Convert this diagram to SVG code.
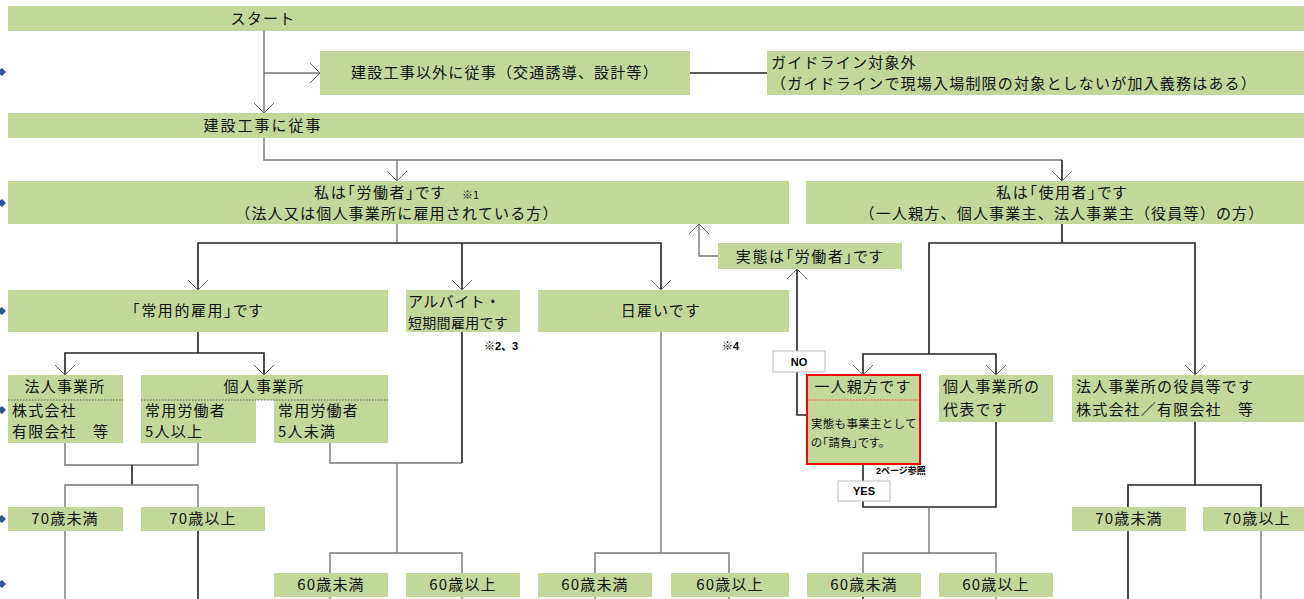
<svg xmlns="http://www.w3.org/2000/svg" width="1304" height="599" viewBox="0 0 1304 599">
<defs>
<style>
.b{fill:#c4d79b}
.t{font-family:"Noto Sans CJK JP","Liberation Sans",sans-serif;font-size:15px;fill:#111;letter-spacing:1.2px}
.p{font-feature-settings:"palt" 1;letter-spacing:1.6px}
.c{text-anchor:middle}
.s{font-size:11.5px;letter-spacing:0.3px}
.m{font-family:"Liberation Sans","Noto Sans CJK JP",sans-serif;font-weight:bold;font-size:11px;fill:#000}
.k{stroke:#222;stroke-width:1.6;fill:none}
.g{stroke:#777;stroke-width:1.4;fill:none}
.a{marker-end:url(#ar)}
.lbl{fill:#fff;stroke:#bbb;stroke-width:1}
</style>
<marker id="ar" viewBox="0 0 10 20" refX="10" refY="10" markerWidth="10" markerHeight="20" markerUnits="userSpaceOnUse" orient="auto">
<path d="M0 0 L10 10 L0 20" fill="none" stroke="#666" stroke-width="1"/>
</marker>
</defs>
<rect width="1304" height="599" fill="#fff"/>

<g id="side-markers" fill="#2f5597">
<polygon points="-3,72 2,68 6,72 2,76"/>
<polygon points="-3,203 2,199 6,203 2,207"/>
<polygon points="-3,311 2,307 6,311 2,315"/>
<polygon points="-3,410 2,406 6,410 2,414"/>
<polygon points="-3,519 2,515 6,519 2,523"/>
<polygon points="-3,584 2,580 6,584 2,588"/>
</g>

<g id="connectors">
<path class="g a" d="M264 31 V113"/>
<path class="g a" d="M264 73 H320"/>
<path class="k" d="M690 73 H767"/>
<path class="g" d="M264 138 V160 H1062"/>
<path class="k a" d="M1062 160 V181"/>
<path class="g a" d="M397 160 V181"/>
<path class="g" d="M397 224 V243"/>
<path class="k a" d="M397 243 H198 V290"/>
<path class="k a" d="M397 243 H661 V290"/>
<path class="k a" d="M462 243 V290"/>
<path class="g a" d="M718 256 H699 V224"/>
<path class="k a" d="M807 415 H797 V269"/>
<path class="k" d="M1062 224 V243"/>
<path class="k a" d="M929 354 V243 H1195 V375"/>
<path class="k a" d="M929 354 H863 V375"/>
<path class="k a" d="M929 354 H996 V375"/>
<path class="k" d="M198 332 V353"/>
<path class="k a" d="M198 353 H65 V375"/>
<path class="k a" d="M198 353 H264 V375"/>
<path class="g" d="M65 443 V465 H198 V443"/>
<path class="k" d="M132 465 V485"/>
<path class="g" d="M65 507 V485 H198 V507"/>
<path class="g" d="M65 531 V599"/>
<path class="k" d="M198 531 V599"/>
<path class="g" d="M330 443 V463 H462"/>
<path class="k" d="M462 332 V463"/>
<path class="g" d="M397 463 V553"/>
<path class="g" d="M330 573 V553 H462 V573"/>
<path class="g" d="M330 597 V599"/>
<path class="g" d="M462 597 V599"/>
<path class="g" d="M661 332 V553"/>
<path class="g" d="M595 573 V553 H729 V573"/>
<path class="g" d="M595 597 V599"/>
<path class="g" d="M729 597 V599"/>
<path class="k" d="M863 464 V507 H996 V422"/>
<path class="g" d="M929 507 V553"/>
<path class="g" d="M863 573 V553 H996 V573"/>
<path class="k" d="M863 597 V599"/>
<path class="g" d="M996 597 V599"/>
<path class="k" d="M1195 422 V485"/>
<path class="k" d="M1128 507 V485 H1261 V507"/>
<path class="k" d="M1128 531 V599"/>
<path class="g" d="M1261 531 V599"/>
</g>

<g id="start">
<rect class="b" x="8" y="6" width="1296" height="25"/>
<text class="t c" x="263" y="24">スタート</text>
</g>
<g id="other-work">
<rect class="b" x="320" y="51" width="370" height="44"/>
<text class="t c" x="505" y="78">建設工事以外に従事（交通誘導、設計等）</text>
</g>
<g id="out-of-scope">
<rect class="b" x="767" y="51" width="537" height="44"/>
<text class="t" x="771" y="68">ガイドライン対象外</text>
<text class="t" x="771" y="89">（ガイドラインで現場入場制限の対象としないが加入義務はある）</text>
</g>
<g id="construction">
<rect class="b" x="8" y="113" width="1296" height="25"/>
<text class="t c" x="263" y="131" style="letter-spacing:2px">建設工事に従事</text>
</g>
<g id="worker">
<rect class="b" x="8" y="181" width="781" height="43"/>
<text class="t p c" x="380" y="198">私は「労働者」です</text>
<text class="t" x="462" y="199" style="font-size:11px;letter-spacing:0">※1</text>
<text class="t c" x="397" y="219">（法人又は個人事業所に雇用されている方）</text>
</g>
<g id="employer">
<rect class="b" x="806" y="181" width="498" height="43"/>
<text class="t p c" x="1062" y="198">私は「使用者」です</text>
<text class="t c" x="1062" y="219">（一人親方、個人事業主、法人事業主（役員等）の方）</text>
</g>
<g id="actually-worker">
<rect class="b" x="718" y="243" width="184" height="26"/>
<text class="t p c" x="810" y="262">実態は「労働者」です</text>
</g>
<g id="regular">
<rect class="b" x="8" y="290" width="380" height="42"/>
<text class="t p c" x="198" y="316">「常用的雇用」です</text>
</g>
<g id="parttime">
<rect class="b" x="406" y="290" width="114" height="42"/>
<text class="t" x="408" y="307" style="letter-spacing:0.5px">アルバイト・</text>
<text class="t" x="408" y="328" style="font-size:14px;letter-spacing:0.3px">短期間雇用です</text>
</g>
<g id="daily">
<rect class="b" x="538" y="290" width="251" height="42"/>
<text class="t c" x="661" y="316">日雇いです</text>
</g>
<text class="m" x="484" y="350">※2、3</text>
<text class="m" x="722" y="350">※4</text>

<g id="corporate">
<rect class="b" x="8" y="375" width="115" height="68"/>
<text class="t c" x="65" y="392">法人事業所</text>
<line x1="8" y1="400" x2="123" y2="400" stroke="#555" stroke-width="1" stroke-dasharray="1.5,1.5"/>
<text class="t" x="12" y="416">株式会社</text>
<text class="t" x="12" y="437">有限会社　等</text>
</g>
<g id="individual">
<rect class="b" x="141" y="375" width="247" height="25"/>
<rect class="b" x="141" y="400" width="115" height="43"/>
<rect class="b" x="274" y="400" width="114" height="43"/>
<text class="t c" x="264" y="392">個人事業所</text>
<line x1="141" y1="400" x2="388" y2="400" stroke="#555" stroke-width="1" stroke-dasharray="1.5,1.5"/>
<text class="t" x="145" y="416">常用労働者</text>
<text class="t" x="145" y="437">5人以上</text>
<text class="t" x="278" y="416">常用労働者</text>
<text class="t" x="278" y="437">5人未満</text>
</g>

<g id="oyakata">
<rect class="b" x="807" y="375" width="113" height="89" stroke="#ff0000" stroke-width="2"/>
<text class="t c" x="863" y="392">一人親方です</text>
<line x1="808" y1="400" x2="919" y2="400" stroke="#ff3333" stroke-width="1" stroke-dasharray="1.5,1.5"/>
<text class="t s" x="811" y="428">実態も事業主として</text>
<text class="t s" x="811" y="447" style="font-feature-settings:'palt' 1">の「請負」です。</text>
</g>
<g id="sole-rep">
<rect class="b" x="939" y="375" width="114" height="47"/>
<text class="t" x="943" y="392">個人事業所の</text>
<text class="t" x="943" y="415">代表です</text>
</g>
<g id="officer">
<rect class="b" x="1072" y="375" width="232" height="47"/>
<text class="t" x="1076" y="392">法人事業所の役員等です</text>
<text class="t" x="1076" y="415">株式会社／有限会社　等</text>
</g>

<g id="no-label">
<rect class="lbl" x="773" y="351" width="52" height="21"/>
<text class="m" x="799" y="366" text-anchor="middle">NO</text>
</g>
<g id="yes-label">
<rect class="lbl" x="838" y="481" width="52" height="20"/>
<text class="m" x="864" y="495" text-anchor="middle">YES</text>
</g>
<text class="m" x="876" y="474" style="font-size:9px">2ページ参照</text>

<g id="a70u-l"><rect class="b" x="8" y="507" width="115" height="24"/><text class="t c" x="65" y="524">70歳未満</text></g>
<g id="a70o-l"><rect class="b" x="141" y="507" width="124" height="24"/><text class="t c" x="203" y="524">70歳以上</text></g>
<g id="a60u-1"><rect class="b" x="274" y="573" width="114" height="24"/><text class="t c" x="331" y="590">60歳未満</text></g>
<g id="a60o-1"><rect class="b" x="406" y="573" width="114" height="24"/><text class="t c" x="463" y="590">60歳以上</text></g>
<g id="a60u-2"><rect class="b" x="538" y="573" width="114" height="24"/><text class="t c" x="595" y="590">60歳未満</text></g>
<g id="a60o-2"><rect class="b" x="671" y="573" width="118" height="24"/><text class="t c" x="730" y="590">60歳以上</text></g>
<g id="a60u-3"><rect class="b" x="807" y="573" width="114" height="24"/><text class="t c" x="864" y="590">60歳未満</text></g>
<g id="a60o-3"><rect class="b" x="939" y="573" width="114" height="24"/><text class="t c" x="996" y="590">60歳以上</text></g>
<g id="a70u-r"><rect class="b" x="1072" y="507" width="114" height="24"/><text class="t c" x="1129" y="524">70歳未満</text></g>
<g id="a70o-r"><rect class="b" x="1203" y="507" width="101" height="24"/><text class="t c" x="1257" y="524">70歳以上</text></g>
</svg>
